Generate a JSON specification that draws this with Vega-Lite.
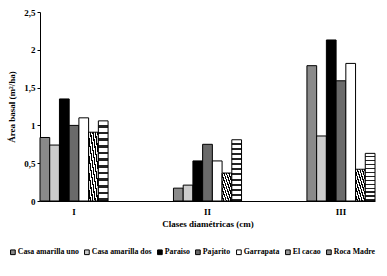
{
  "$schema": "https://vega.github.io/schema/vega-lite/v6.json",
  "autosize": "none",
  "width": 335,
  "height": 189,
  "padding": {"left": 40, "top": 12, "right": 12, "bottom": 75},
  "background": "white",
  "config": {
    "view": {"stroke": null},
    "font": "Liberation Serif",
    "axis": {"labelFont": "Liberation Serif", "titleFont": "Liberation Serif", "labelFontWeight": "bold", "titleFontWeight": "bold", "labelColor": "black", "titleColor": "black", "domainColor": "black", "tickColor": "black", "grid": false, "labelFontSize": 9, "titleFontSize": 9},
    "legend": {"labelFont": "Liberation Serif", "labelFontWeight": "bold", "labelFontSize": 7.8, "labelColor": "black"}
  },
  "data": {
    "values": [
      {"clase": "I", "sitio": "Casa amarilla uno", "area": 0.84},
      {"clase": "I", "sitio": "Casa amarilla dos", "area": 0.74},
      {"clase": "I", "sitio": "Paraiso", "area": 1.35},
      {"clase": "I", "sitio": "Pajarito", "area": 1.0},
      {"clase": "I", "sitio": "Garrapata", "area": 1.1},
      {"clase": "I", "sitio": "El cacao", "area": 0.91},
      {"clase": "I", "sitio": "Roca Madre", "area": 1.06},
      {"clase": "II", "sitio": "Casa amarilla uno", "area": 0.17},
      {"clase": "II", "sitio": "Casa amarilla dos", "area": 0.21},
      {"clase": "II", "sitio": "Paraiso", "area": 0.53},
      {"clase": "II", "sitio": "Pajarito", "area": 0.75},
      {"clase": "II", "sitio": "Garrapata", "area": 0.53},
      {"clase": "II", "sitio": "El cacao", "area": 0.37},
      {"clase": "II", "sitio": "Roca Madre", "area": 0.81},
      {"clase": "III", "sitio": "Casa amarilla uno", "area": 1.79},
      {"clase": "III", "sitio": "Casa amarilla dos", "area": 0.86},
      {"clase": "III", "sitio": "Paraiso", "area": 2.13},
      {"clase": "III", "sitio": "Pajarito", "area": 1.59},
      {"clase": "III", "sitio": "Garrapata", "area": 1.82},
      {"clase": "III", "sitio": "El cacao", "area": 0.42},
      {"clase": "III", "sitio": "Roca Madre", "area": 0.63}
    ]
  },
  "mark": {"type": "bar", "stroke": "black", "strokeWidth": 1},
  "encoding": {
    "x": {
      "field": "clase", "type": "nominal",
      "scale": {"paddingInner": 0.49, "paddingOuter": 0},
      "axis": {"title": "Clases diamétricas (cm)", "labelAngle": 0, "ticks": false, "labelPadding": 6, "titlePadding": 3}
    },
    "xOffset": {
      "field": "sitio", "type": "nominal",
      "sort": ["Casa amarilla uno", "Casa amarilla dos", "Paraiso", "Pajarito", "Garrapata", "El cacao", "Roca Madre"],
      "scale": {"paddingInner": 0, "paddingOuter": 0}
    },
    "y": {
      "field": "area", "type": "quantitative",
      "scale": {"domain": [0, 2.5]},
      "axis": {"title": "Área basal (m²/ha)", "values": [0, 0.5, 1, 1.5, 2, 2.5], "labelExpr": "replace(toString(datum.value), '.', ',')", "tickSize": 3, "titlePadding": 7}
    },
    "fill": {
      "condition": [
        {"test": "datum.sitio === 'El cacao'", "value": {"gradient": "linear", "x1": 0, "y1": 1, "x2": 1, "y2": 0, "stops": [
          {"offset": 0, "color": "white"}, {"offset": 0.0625, "color": "white"}, {"offset": 0.0625, "color": "black"}, {"offset": 0.125, "color": "black"},
          {"offset": 0.125, "color": "white"}, {"offset": 0.1875, "color": "white"}, {"offset": 0.1875, "color": "black"}, {"offset": 0.25, "color": "black"},
          {"offset": 0.25, "color": "white"}, {"offset": 0.3125, "color": "white"}, {"offset": 0.3125, "color": "black"}, {"offset": 0.375, "color": "black"},
          {"offset": 0.375, "color": "white"}, {"offset": 0.4375, "color": "white"}, {"offset": 0.4375, "color": "black"}, {"offset": 0.5, "color": "black"},
          {"offset": 0.5, "color": "white"}, {"offset": 0.5625, "color": "white"}, {"offset": 0.5625, "color": "black"}, {"offset": 0.625, "color": "black"},
          {"offset": 0.625, "color": "white"}, {"offset": 0.6875, "color": "white"}, {"offset": 0.6875, "color": "black"}, {"offset": 0.75, "color": "black"},
          {"offset": 0.75, "color": "white"}, {"offset": 0.8125, "color": "white"}, {"offset": 0.8125, "color": "black"}, {"offset": 0.875, "color": "black"},
          {"offset": 0.875, "color": "white"}, {"offset": 0.9375, "color": "white"}, {"offset": 0.9375, "color": "black"}, {"offset": 1, "color": "black"}
        ]}},
        {"test": "datum.sitio === 'Roca Madre'", "value": {"gradient": "linear", "x1": 0, "y1": 0, "x2": 0, "y2": 1, "stops": [
          {"offset": 0, "color": "white"}, {"offset": 0.05, "color": "white"}, {"offset": 0.05, "color": "#222"}, {"offset": 0.0833, "color": "#222"},
          {"offset": 0.0833, "color": "white"}, {"offset": 0.1333, "color": "white"}, {"offset": 0.1333, "color": "#222"}, {"offset": 0.1667, "color": "#222"},
          {"offset": 0.1667, "color": "white"}, {"offset": 0.2167, "color": "white"}, {"offset": 0.2167, "color": "#222"}, {"offset": 0.25, "color": "#222"},
          {"offset": 0.25, "color": "white"}, {"offset": 0.3, "color": "white"}, {"offset": 0.3, "color": "#222"}, {"offset": 0.3333, "color": "#222"},
          {"offset": 0.3333, "color": "white"}, {"offset": 0.3833, "color": "white"}, {"offset": 0.3833, "color": "#222"}, {"offset": 0.4167, "color": "#222"},
          {"offset": 0.4167, "color": "white"}, {"offset": 0.4667, "color": "white"}, {"offset": 0.4667, "color": "#222"}, {"offset": 0.5, "color": "#222"},
          {"offset": 0.5, "color": "white"}, {"offset": 0.55, "color": "white"}, {"offset": 0.55, "color": "#222"}, {"offset": 0.5833, "color": "#222"},
          {"offset": 0.5833, "color": "white"}, {"offset": 0.6333, "color": "white"}, {"offset": 0.6333, "color": "#222"}, {"offset": 0.6667, "color": "#222"},
          {"offset": 0.6667, "color": "white"}, {"offset": 0.7167, "color": "white"}, {"offset": 0.7167, "color": "#222"}, {"offset": 0.75, "color": "#222"},
          {"offset": 0.75, "color": "white"}, {"offset": 0.8, "color": "white"}, {"offset": 0.8, "color": "#222"}, {"offset": 0.8333, "color": "#222"},
          {"offset": 0.8333, "color": "white"}, {"offset": 0.8833, "color": "white"}, {"offset": 0.8833, "color": "#222"}, {"offset": 0.9167, "color": "#222"},
          {"offset": 0.9167, "color": "white"}, {"offset": 0.9667, "color": "white"}, {"offset": 0.9667, "color": "#222"}, {"offset": 1, "color": "#222"}
        ]}}
      ],
      "field": "sitio", "type": "nominal",
      "sort": ["Casa amarilla uno", "Casa amarilla dos", "Paraiso", "Pajarito", "Garrapata", "El cacao", "Roca Madre"],
      "scale": {"range": ["#8a8a8a", "#cccccc", "#000000", "#6a6a6a", "#ffffff", "#9a9a9a", "#8c8c8c"]},
      "legend": {"title": null, "orient": "none", "legendX": -31, "legendY": 236, "direction": "horizontal", "columns": 7, "symbolType": "square", "symbolSize": 22, "symbolStrokeColor": "black", "symbolStrokeWidth": 1, "columnPadding": 3, "labelOffset": 1}
    }
  }
}
